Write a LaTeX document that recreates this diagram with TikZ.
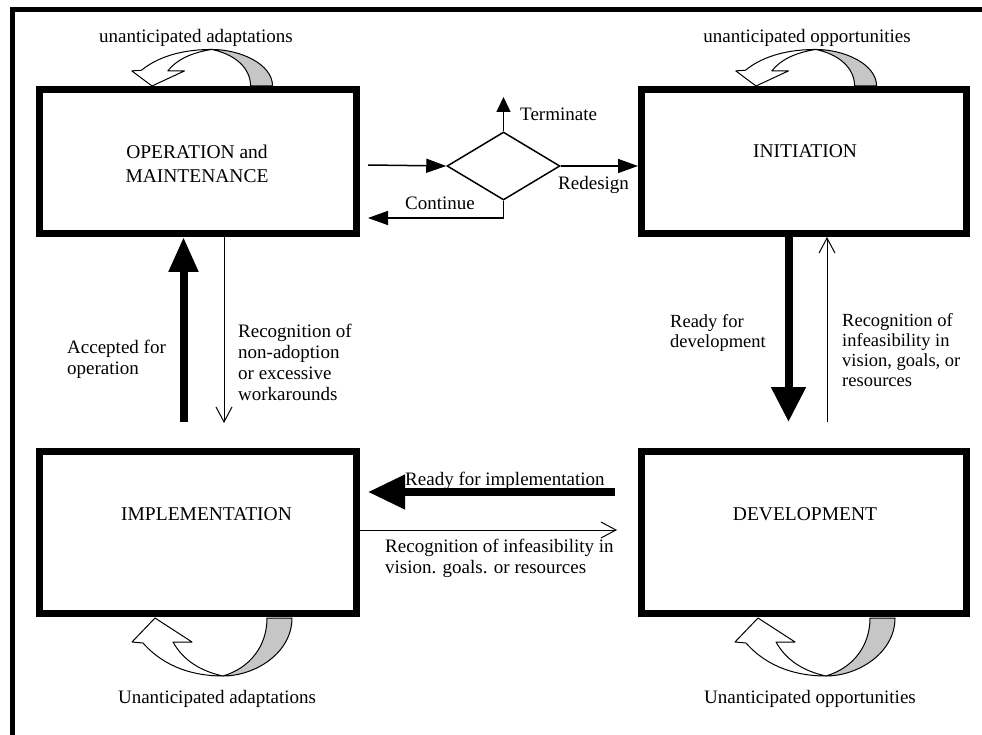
\documentclass[tikz,border=0pt]{standalone}
\usepackage{fontspec}
\setmainfont{Liberation Serif}
\usetikzlibrary{arrows.meta,shapes.geometric}
\begin{document}
\begin{tikzpicture}[x=1pt,y=-1pt,
  box/.style={draw, line width=7pt, inner sep=0pt},
  lbl/.style={font=\fontsize{19}{21}\selectfont, inner sep=0pt},
  boxlbl/.style={font=\fontsize{19.5}{24}\selectfont, align=center, inner sep=0pt},
  bigarrow/.style={line width=8pt, -{Triangle[length=35pt,width=33pt]}},
  thinarrow/.style={line width=1pt, -{Straight Barb[length=15pt,width=16pt,line width=1pt]}},
  flow/.style={line width=1.5pt, -{Triangle[length=20pt,width=14pt]}},
  loopface/.style={draw, line width=1pt, fill=white, line join=round},
  loopback/.style={draw, line width=1pt, fill=gray!45, line join=round},
]
\useasboundingbox (0,0) rectangle (982,735);
\fill[white] (0,0) rectangle (982,735);
% frame
\draw[line width=5pt] (12.5,735) -- (12.5,9.5) -- (982,9.5);

% boxes
\node[box, minimum width=317.5pt, minimum height=143.5pt] (om) at (197.75,161.75) {};
\node[box, minimum width=325pt, minimum height=143.5pt] (ini) at (804,161.75) {};
\node[box, minimum width=317.5pt, minimum height=161.5pt] (imp) at (197.75,532.25) {};
\node[box, minimum width=325pt, minimum height=161.5pt] (dev) at (804,532.25) {};

\node[boxlbl] (omlbl) at (197,163.5) {OPERATION and\\MAINTENANCE};
\node[boxlbl, anchor=base] (inilbl) at (805,158) {INITIATION};
\node[boxlbl, anchor=base] (implbl) at (206.5,520) {IMPLEMENTATION};
\node[boxlbl, anchor=base] (devlbl) at (805,520) {DEVELOPMENT};

% decision
\node[diamond, draw, line width=1.5pt, minimum width=113pt, minimum height=68pt, inner sep=0pt] (dec) at (503.5,166) {};
\coordinate (inL) at (368,165);
\coordinate (termEnd) at (503.5,97);
\coordinate (contEnd) at (368,218);
\draw[flow] (inL) -- (dec.west);
\draw[line width=1.5pt, -{Triangle[length=15pt,width=14pt]}] (dec.north) -- (termEnd);
\draw[flow] (dec.east) -- (dec.east -| ini.west);
\draw[flow] (dec.south) |- (contEnd);
\node[lbl, anchor=base west] (tlbl) at (520,121) {Terminate};
\node[lbl, anchor=base west] (rlbl) at (558,190) {Redesign};
\node[lbl, anchor=base west] (clbl) at (405,210) {Continue};

% vertical connectors left
\coordinate (accS) at (183.5,422);
\coordinate (recE) at (224,423);
\draw[line width=8pt, -{Triangle[length=35pt,width=28pt]}] (accS) -- (accS |- om.south);
\draw[thinarrow] (recE |- om.south) -- (recE);
\node[lbl, anchor=north west, align=left] (acclbl) at (67,340) {Accepted for\\operation};
\node[lbl, anchor=north west, align=left] (reclbl) at (238,324) {Recognition of\\non-adoption\\or excessive\\workarounds};

% vertical connectors right
\coordinate (rdE) at (788.5,422);
\coordinate (infS) at (827,422);
\draw[bigarrow] (rdE |- ini.south) -- (rdE);
\draw[thinarrow] (infS) -- (infS |- ini.south);
\node[lbl, anchor=north west, align=left, font=\fontsize{18.5}{20}\selectfont] (rdlbl) at (670,314) {Ready for\\development};
\node[lbl, anchor=north west, align=left, font=\fontsize{18.5}{20}\selectfont] (inflbl) at (842,313) {Recognition of\\infeasibility in\\vision, goals, or\\resources};

% horizontal connectors
\coordinate (rfiS) at (615,492);
\coordinate (rfiE) at (368,492);
\coordinate (y530) at (0,530);
\coordinate (backE) at (617,530);
\draw[line width=7.5pt, -{Triangle[length=37pt,width=33pt]}] (rfiS) -- (rfiE);
\draw[thinarrow] (imp.east |- y530) -- (backE);
\node[lbl, anchor=base west] (rfilbl) at (405,485) {Ready for implementation};
\node[lbl, anchor=north west, align=left] (backlbl) at (385,539) {Recognition of infeasibility in\\vision. goals. or resources};

% self loops
\newcommand{\loopshape}{%
  \path[loopback] (68,58) .. controls (100,58) and (137,35) .. (137,0)
     -- (112,0) .. controls (112,28) and (95,50) .. (68,58) -- cycle;
  \path[loopface] (0,0) -- (37,24) -- (18,24) .. controls (28,42) and (45,53) .. (68,58)
     .. controls (40,58) and (10,50) .. (-12,25) -- (-23,24) -- cycle;
}
\begin{scope}[shift={(152,86)}, xscale=0.88, yscale=-0.63]\loopshape\end{scope}
\begin{scope}[shift={(756,86)}, xscale=0.88, yscale=-0.63]\loopshape\end{scope}
\begin{scope}[shift={(155,618)}]\loopshape\end{scope}
\begin{scope}[shift={(758,618)}]\loopshape\end{scope}

\node[lbl, anchor=base] (l1) at (196,43) {unanticipated adaptations};
\node[lbl, anchor=base] (l2) at (807,43) {unanticipated opportunities};
\node[lbl, anchor=base] (l3) at (217,703) {Unanticipated adaptations};
\node[lbl, anchor=base] (l4) at (810,703) {Unanticipated opportunities};
\end{tikzpicture}
\end{document}
